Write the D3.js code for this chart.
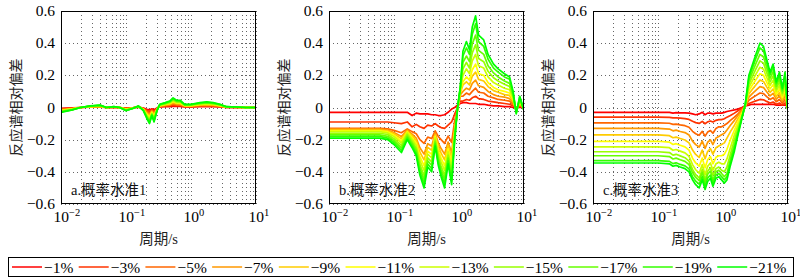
<!DOCTYPE html>
<html><head><meta charset="utf-8">
<script src="https://cdn.jsdelivr.net/npm/d3@7/dist/d3.min.js"></script>
<style>body{margin:0;background:#fff}svg{display:block}</style>
</head><body><svg id="c" width="800" height="278"></svg>
<script>
// ---------- data ----------
const levels = ["−1%","−3%","−5%","−7%","−9%","−11%","−13%","−15%","−17%","−19%","−21%"];
const yTickValues = [-0.6,-0.4,-0.2,0,0.2,0.4,0.6];
const yTickLabels = ["−0.6","−0.4","−0.2","0","0.2","0.4","0.6"];
const xTickValues = [0.01,0.1,1,10];
const xTickExps = ["−2","−1","0","1"];
const panelLabels = ["a.概率水准1","b.概率水准2","c.概率水准3"];

const periodA = [0.01,0.015,0.02,0.028,0.04,0.05,0.065,0.08,0.1,0.13,0.155,0.185,0.21,0.23,0.25,0.27,0.3,0.33,0.4,0.47,0.53,0.6,0.68,0.8,1.0,1.37,1.75,2.2,2.8,3.5,5,7,10];
const valuesA = [
 [-0.005,-0.002,0,0.002,0.002,0,0.001,0,-0.003,-0.001,0.002,-0.003,-0.011,-0.015,-0.008,-0.014,-0.003,0.003,0.005,0.006,0.009,0.007,0.007,0.003,0.003,0.005,0.005,0.005,0.003,0.001,0,0,0],
 [-0.008,-0.004,0,0.003,0.004,0,0.001,0,-0.005,-0.001,0.003,-0.005,-0.018,-0.025,-0.013,-0.023,-0.005,0.005,0.008,0.01,0.015,0.011,0.011,0.005,0.005,0.008,0.009,0.008,0.005,0.001,0.001,0,0],
 [-0.011,-0.005,0,0.004,0.005,0,0.002,0,-0.007,-0.002,0.004,-0.007,-0.025,-0.035,-0.018,-0.032,-0.007,0.007,0.011,0.014,0.021,0.016,0.016,0.007,0.007,0.011,0.012,0.011,0.007,0.002,0.001,0,0],
 [-0.014,-0.007,0,0.005,0.007,0,0.002,0,-0.009,-0.002,0.005,-0.009,-0.032,-0.045,-0.023,-0.041,-0.009,0.009,0.014,0.018,0.027,0.02,0.02,0.009,0.009,0.014,0.016,0.014,0.009,0.002,0.001,0,0],
 [-0.017,-0.008,0,0.006,0.008,0,0.003,0,-0.011,-0.003,0.006,-0.011,-0.039,-0.055,-0.028,-0.05,-0.011,0.011,0.017,0.022,0.033,0.025,0.025,0.011,0.011,0.017,0.019,0.017,0.011,0.003,0.002,0,0],
 [-0.019,-0.009,0,0.006,0.009,0,0.003,0,-0.012,-0.003,0.006,-0.012,-0.043,-0.062,-0.031,-0.056,-0.012,0.012,0.019,0.025,0.037,0.028,0.028,0.012,0.012,0.019,0.022,0.019,0.012,0.003,0.002,0,0],
 [-0.021,-0.011,0,0.007,0.011,0,0.004,0,-0.014,-0.004,0.007,-0.014,-0.049,-0.07,-0.035,-0.063,-0.014,0.014,0.021,0.028,0.042,0.032,0.032,0.014,0.014,0.021,0.025,0.021,0.014,0.004,0.002,0,0],
 [-0.023,-0.012,0,0.008,0.012,0,0.004,0,-0.016,-0.004,0.008,-0.016,-0.055,-0.078,-0.039,-0.07,-0.016,0.016,0.023,0.031,0.047,0.035,0.035,0.016,0.016,0.023,0.027,0.023,0.016,0.004,0.002,0,0],
 [-0.026,-0.013,0,0.009,0.013,0,0.004,0,-0.017,-0.004,0.009,-0.017,-0.06,-0.085,-0.043,-0.077,-0.017,0.017,0.026,0.034,0.051,0.038,0.038,0.017,0.017,0.026,0.03,0.026,0.017,0.004,0.003,0,0],
 [-0.028,-0.014,0,0.009,0.014,0,0.005,0,-0.018,-0.005,0.009,-0.018,-0.064,-0.092,-0.046,-0.083,-0.018,0.018,0.028,0.037,0.055,0.041,0.041,0.018,0.018,0.028,0.032,0.028,0.018,0.005,0.003,0,0],
 [-0.03,-0.015,0,0.01,0.015,0,0.005,0,-0.02,-0.005,0.01,-0.02,-0.07,-0.1,-0.05,-0.09,-0.02,0.02,0.03,0.04,0.06,0.045,0.045,0.02,0.02,0.03,0.035,0.03,0.02,0.005,0.003,0,0]
];

const periodB = [0.01,0.03,0.06,0.08,0.1,0.13,0.16,0.19,0.22,0.25,0.29,0.33,0.38,0.43,0.48,0.53,0.6,0.68,0.77,0.86,0.95,1.05,1.15,1.3,1.45,1.6,1.8,2.0,2.4,2.8,3.4,4.0,5.0,6.0,6.8,7.6,8.6,10];
const valuesB = [
 [-0.03,-0.03,-0.03,-0.03,-0.03,-0.03,-0.03,-0.05,-0.035,-0.04,-0.04,-0.04,-0.045,-0.045,-0.05,-0.05,-0.045,-0.03,-0.01,0.0,0.015,0.025,0.03,0.03,0.025,0.025,0.025,0.02,0.02,0.015,0.01,0.01,0.005,0.005,0,0,0,0],
 [-0.09,-0.09,-0.09,-0.09,-0.095,-0.1,-0.09,-0.12,-0.105,-0.12,-0.13,-0.11,-0.115,-0.1,-0.115,-0.125,-0.13,-0.11,-0.09,-0.04,0.0,0.04,0.04,0.05,0.045,0.06,0.07,0.055,0.05,0.04,0.035,0.03,0.025,0.02,0.01,0.0,0.01,0.0],
 [-0.13,-0.13,-0.13,-0.133,-0.142,-0.157,-0.133,-0.15,-0.163,-0.2,-0.223,-0.184,-0.193,-0.145,-0.18,-0.2,-0.223,-0.178,-0.217,-0.08,0.0,0.07,0.07,0.09,0.08,0.1,0.12,0.095,0.09,0.07,0.06,0.05,0.045,0.04,0.02,-0.01,0.015,0.0],
 [-0.135,-0.135,-0.135,-0.14,-0.155,-0.18,-0.14,-0.165,-0.19,-0.25,-0.29,-0.225,-0.24,-0.16,-0.22,-0.255,-0.29,-0.215,-0.28,-0.12,-0.01,0.08,0.1,0.12,0.11,0.15,0.17,0.135,0.125,0.1,0.08,0.07,0.065,0.055,0.03,-0.01,0.02,-0.005],
 [-0.14,-0.14,-0.14,-0.146,-0.164,-0.194,-0.146,-0.176,-0.206,-0.278,-0.326,-0.248,-0.266,-0.17,-0.242,-0.284,-0.326,-0.236,-0.314,-0.14,-0.01,0.09,0.14,0.16,0.14,0.195,0.22,0.175,0.165,0.13,0.105,0.095,0.08,0.075,0.04,-0.015,0.03,-0.01],
 [-0.145,-0.145,-0.145,-0.152,-0.173,-0.208,-0.152,-0.187,-0.222,-0.306,-0.362,-0.271,-0.292,-0.18,-0.264,-0.313,-0.362,-0.257,-0.348,-0.15,-0.01,0.1,0.16,0.19,0.17,0.235,0.27,0.21,0.2,0.155,0.125,0.11,0.1,0.09,0.05,-0.02,0.035,-0.01],
 [-0.15,-0.15,-0.15,-0.158,-0.181,-0.22,-0.158,-0.197,-0.236,-0.329,-0.392,-0.29,-0.314,-0.189,-0.283,-0.337,-0.392,-0.275,-0.376,-0.16,-0.01,0.11,0.2,0.24,0.21,0.29,0.33,0.26,0.245,0.19,0.155,0.14,0.12,0.11,0.06,-0.025,0.04,-0.01],
 [-0.16,-0.16,-0.16,-0.168,-0.194,-0.236,-0.168,-0.211,-0.253,-0.355,-0.423,-0.313,-0.338,-0.202,-0.304,-0.364,-0.423,-0.296,-0.406,-0.17,-0.01,0.12,0.24,0.28,0.245,0.34,0.39,0.305,0.285,0.225,0.185,0.165,0.145,0.13,0.07,-0.03,0.05,-0.015],
 [-0.17,-0.17,-0.17,-0.179,-0.206,-0.251,-0.179,-0.224,-0.269,-0.377,-0.449,-0.332,-0.359,-0.215,-0.323,-0.386,-0.449,-0.314,-0.431,-0.18,0.0,0.12,0.28,0.32,0.285,0.395,0.45,0.355,0.33,0.26,0.215,0.19,0.165,0.15,0.08,-0.03,0.055,-0.015],
 [-0.18,-0.18,-0.18,-0.19,-0.218,-0.266,-0.19,-0.237,-0.285,-0.399,-0.475,-0.351,-0.38,-0.228,-0.342,-0.408,-0.475,-0.332,-0.456,-0.19,0.0,0.13,0.32,0.37,0.33,0.455,0.52,0.41,0.38,0.3,0.245,0.22,0.19,0.175,0.09,-0.035,0.065,-0.02],
 [-0.19,-0.19,-0.19,-0.2,-0.23,-0.28,-0.2,-0.25,-0.3,-0.42,-0.5,-0.37,-0.4,-0.24,-0.36,-0.43,-0.5,-0.35,-0.48,-0.2,0.0,0.13,0.35,0.41,0.36,0.5,0.57,0.45,0.42,0.33,0.27,0.24,0.21,0.19,0.1,-0.04,0.07,-0.02]
];

const periodC = [0.01,0.03,0.06,0.1,0.15,0.17,0.19,0.22,0.26,0.3,0.34,0.38,0.43,0.48,0.53,0.58,0.64,0.7,0.78,0.86,0.95,1.05,1.15,1.3,1.5,1.7,1.95,2.2,2.5,2.8,3.2,3.7,4.2,4.7,5.3,5.9,6.6,7.4,8.2,9.0,10];
const valuesC = [
 [-0.03,-0.03,-0.03,-0.03,-0.03,-0.035,-0.032,-0.033,-0.033,-0.035,-0.04,-0.045,-0.04,-0.03,-0.045,-0.035,-0.035,-0.04,-0.035,-0.035,-0.035,-0.03,-0.025,-0.02,-0.015,-0.01,0.0,0.01,0.015,0.02,0.02,0.02,0.02,0.02,0.02,0.02,0.015,0.015,0.015,0.015,0.01],
 [-0.06,-0.06,-0.06,-0.06,-0.061,-0.065,-0.064,-0.066,-0.069,-0.074,-0.086,-0.094,-0.099,-0.086,-0.101,-0.089,-0.084,-0.09,-0.08,-0.075,-0.075,-0.07,-0.06,-0.05,-0.035,-0.02,-0.005,0.01,0.025,0.033,0.041,0.05,0.048,0.038,0.028,0.034,0.02,0.028,0.015,0.028,-0.004],
 [-0.095,-0.095,-0.095,-0.095,-0.098,-0.105,-0.103,-0.108,-0.113,-0.123,-0.148,-0.163,-0.173,-0.148,-0.178,-0.153,-0.143,-0.16,-0.13,-0.12,-0.12,-0.11,-0.1,-0.08,-0.06,-0.04,-0.015,0.01,0.045,0.059,0.074,0.09,0.086,0.068,0.05,0.061,0.036,0.05,0.027,0.05,-0.007],
 [-0.13,-0.13,-0.13,-0.13,-0.134,-0.145,-0.141,-0.149,-0.156,-0.171,-0.209,-0.231,-0.246,-0.209,-0.254,-0.216,-0.201,-0.23,-0.19,-0.18,-0.17,-0.16,-0.14,-0.11,-0.08,-0.05,-0.02,0.01,0.065,0.085,0.107,0.13,0.124,0.098,0.072,0.088,0.052,0.072,0.039,0.072,-0.01],
 [-0.17,-0.17,-0.17,-0.17,-0.175,-0.188,-0.184,-0.193,-0.202,-0.22,-0.265,-0.292,-0.31,-0.265,-0.319,-0.274,-0.256,-0.29,-0.25,-0.24,-0.23,-0.22,-0.19,-0.15,-0.11,-0.07,-0.03,0.01,0.085,0.111,0.14,0.17,0.162,0.128,0.094,0.115,0.068,0.094,0.051,0.094,-0.013],
 [-0.21,-0.21,-0.21,-0.21,-0.215,-0.23,-0.225,-0.235,-0.245,-0.265,-0.315,-0.345,-0.365,-0.315,-0.375,-0.325,-0.305,-0.35,-0.31,-0.3,-0.3,-0.29,-0.26,-0.2,-0.14,-0.09,-0.04,0.01,0.105,0.137,0.173,0.21,0.2,0.158,0.116,0.142,0.084,0.116,0.063,0.116,-0.016],
 [-0.245,-0.245,-0.245,-0.245,-0.25,-0.266,-0.261,-0.271,-0.282,-0.303,-0.355,-0.387,-0.408,-0.355,-0.418,-0.366,-0.345,-0.39,-0.35,-0.34,-0.35,-0.35,-0.32,-0.25,-0.17,-0.11,-0.05,0.01,0.125,0.163,0.206,0.25,0.238,0.188,0.138,0.169,0.1,0.138,0.075,0.138,-0.019],
 [-0.275,-0.275,-0.275,-0.275,-0.28,-0.296,-0.291,-0.301,-0.312,-0.333,-0.385,-0.417,-0.438,-0.385,-0.448,-0.396,-0.375,-0.42,-0.38,-0.37,-0.39,-0.4,-0.37,-0.29,-0.2,-0.13,-0.06,0.01,0.145,0.189,0.239,0.29,0.276,0.218,0.16,0.196,0.116,0.16,0.087,0.16,-0.022],
 [-0.3,-0.3,-0.3,-0.3,-0.305,-0.32,-0.315,-0.325,-0.335,-0.355,-0.405,-0.435,-0.455,-0.405,-0.465,-0.415,-0.395,-0.45,-0.4,-0.39,-0.41,-0.43,-0.41,-0.32,-0.23,-0.15,-0.06,0.015,0.165,0.215,0.272,0.33,0.314,0.248,0.182,0.223,0.132,0.182,0.099,0.182,-0.025],
 [-0.33,-0.33,-0.33,-0.33,-0.335,-0.349,-0.344,-0.354,-0.363,-0.382,-0.43,-0.458,-0.477,-0.43,-0.487,-0.439,-0.42,-0.47,-0.42,-0.41,-0.43,-0.45,-0.43,-0.34,-0.25,-0.16,-0.065,0.02,0.185,0.24,0.305,0.37,0.352,0.278,0.204,0.25,0.148,0.204,0.111,0.204,-0.028],
 [-0.345,-0.345,-0.345,-0.345,-0.35,-0.365,-0.36,-0.37,-0.38,-0.4,-0.45,-0.48,-0.5,-0.45,-0.51,-0.46,-0.44,-0.49,-0.44,-0.43,-0.45,-0.47,-0.45,-0.36,-0.27,-0.17,-0.07,0.02,0.2,0.26,0.33,0.4,0.38,0.3,0.22,0.27,0.16,0.22,0.12,0.22,-0.03]
];

// ---------- style ----------
const colors = ["#ff0000","#ff3300","#ff6600","#ff9900","#ffcc00","#ffff00","#ccff00","#99ff00","#66ff00","#33ff00","#00ff00"];
const serif = "'Liberation Serif','Times New Roman',serif";
const cjk = "'Liberation Serif','Noto Sans CJK SC',serif";

const svg = d3.select("#c");
svg.append("rect").attr("width",800).attr("height",278).attr("fill","#fff");

const plotTop = 11, plotBottom = 204;
const panels = [
  {left:61, right:256, periods:periodA, values:valuesA},
  {left:329, right:524, periods:periodB, values:valuesB},
  {left:593, right:788, periods:periodC, values:valuesC}
];
const y = d3.scaleLinear().domain([-0.6,0.6]).range([plotBottom, plotTop]);

panels.forEach((p, pi) => {
  const x = d3.scaleLog().domain([0.01,10]).range([p.left, p.right]);
  const g = svg.append("g");
  const clipId = "clip"+pi;
  svg.append("clipPath").attr("id", clipId).append("rect")
    .attr("x", p.left).attr("y", plotTop).attr("width", p.right-p.left).attr("height", plotBottom-plotTop);

  // grid
  g.selectAll(".vg").data(x.ticks()).enter().append("line")
    .attr("x1", d=>Math.round(x(d))+0.5).attr("x2", d=>Math.round(x(d))+0.5)
    .attr("y1", plotTop).attr("y2", plotBottom)
    .attr("stroke", "#666").attr("stroke-width", 1).attr("stroke-dasharray", "1,3");
  g.selectAll(".hg").data(yTickValues).enter().append("line")
    .attr("x1", p.left).attr("x2", p.right)
    .attr("y1", d=>Math.round(y(d))+0.5).attr("y2", d=>Math.round(y(d))+0.5)
    .attr("stroke", "#666").attr("stroke-width", 1).attr("stroke-dasharray", "1,3");

  // series
  const line = d3.line().x((d,i)=>x(p.periods[i])).y(d=>y(d));
  const lg = g.append("g").attr("clip-path", `url(#${clipId})`);
  p.values.forEach((vals, k) => {
    lg.append("path").attr("d", line(vals)).attr("fill","none")
      .attr("stroke", colors[k]).attr("stroke-width", 1.7).attr("stroke-linejoin","round");
  });

  // box
  g.append("rect").attr("x", p.left+0.5).attr("y", plotTop+0.5)
    .attr("width", p.right-p.left-1).attr("height", plotBottom-plotTop-1)
    .attr("fill","none").attr("stroke","#000").attr("stroke-width",1);

  // y tick labels
  g.selectAll(".yl").data(yTickValues).enter().append("text")
    .attr("x", p.left-6).attr("y", d=>y(d)+5)
    .attr("text-anchor","end").attr("font-family", serif).attr("font-size", 15.5)
    .text((d,i)=>yTickLabels[i]);

  // x tick labels
  xTickValues.forEach((v,i) => {
    const t = g.append("text").attr("x", x(v)-7.5).attr("y", 222)
      .attr("font-family", serif).attr("font-size", 15.5);
    t.append("tspan").text("10");
    t.append("tspan").attr("dy", -6).attr("font-size", 10.5).text(xTickExps[i]);
  });

  // x title
  g.append("text").attr("x", (p.left+p.right)/2).attr("y", 244)
    .attr("text-anchor","middle").attr("font-family", cjk).attr("font-size", 14.5)
    .attr("fill","#222").text("周期/s");

  // y title
  g.append("text").attr("transform", `translate(${p.left-45},${(plotTop+plotBottom)/2}) rotate(-90)`)
    .attr("text-anchor","middle").attr("dominant-baseline","central")
    .attr("font-family", cjk).attr("font-size", 14).attr("fill","#222").text("反应谱相对偏差");

  // panel label
  g.append("text").attr("x", p.left+10).attr("y", 195)
    .attr("font-family", cjk).attr("font-size", 14.5).attr("fill","#111").text(panelLabels[pi]);
});

// legend
const leg = svg.append("g");
leg.append("rect").attr("x", 8.5).attr("y", 257.5).attr("width", 785).attr("height", 19)
  .attr("fill","#fff").attr("stroke","#000").attr("stroke-width",1);
let cx = 12;
levels.forEach((lab, k) => {
  leg.append("line").attr("x1", cx).attr("x2", cx+30).attr("y1", 267).attr("y2", 267)
    .attr("stroke", colors[k]).attr("stroke-width", 1.5);
  const t = leg.append("text").attr("x", cx+32).attr("y", 272.5)
    .attr("font-family", serif).attr("font-size", 15.5).text(lab);
  cx = cx + 32 + t.node().getComputedTextLength() + 5.3;
});
</script></body></html>
